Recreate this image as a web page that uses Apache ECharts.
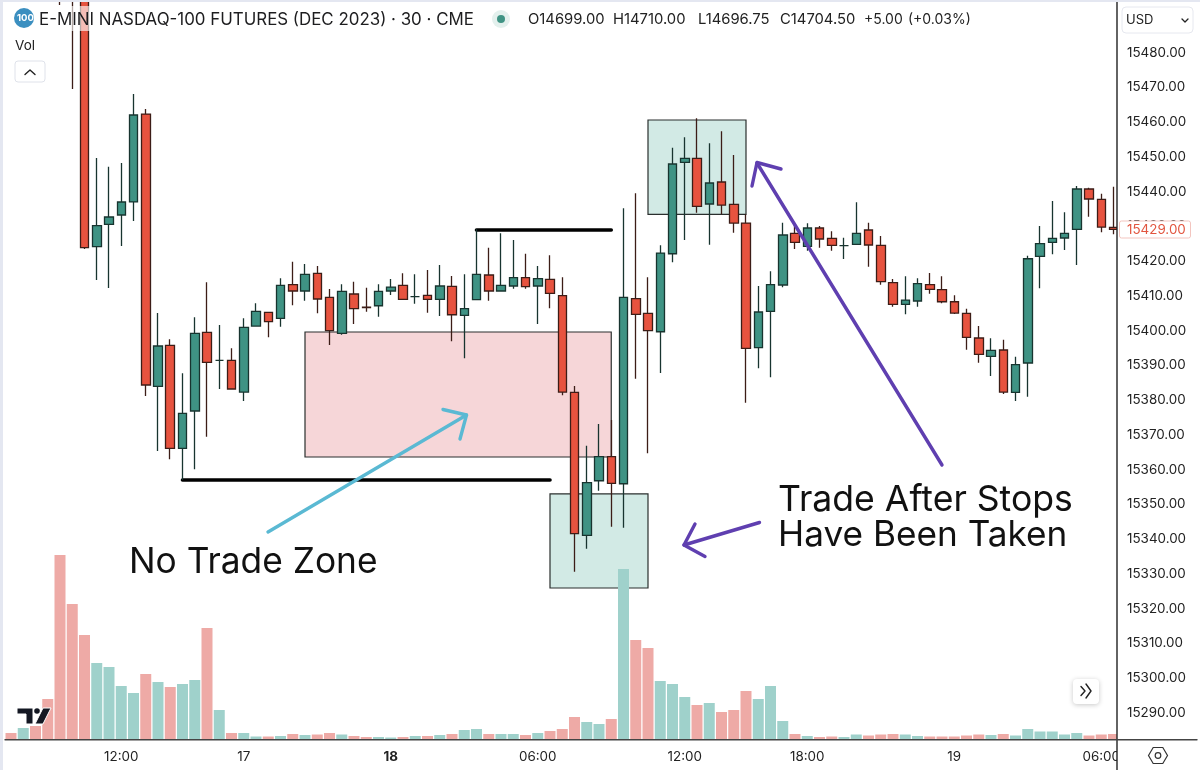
<!DOCTYPE html>
<html><head><meta charset="utf-8">
<style>html,body{margin:0;padding:0;background:#fff}#c{width:1200px;height:770px}</style>
<script src="https://cdn.jsdelivr.net/npm/echarts@6/dist/echarts.min.js"></script>
</head><body><div id="c"></div>
<script>
const opens=[15535,15528,15536,15533,15530,15508,15497,15424.13,15430.57,15433.25,15437,15462.3,15383.97,15395.76,15366.13,15376.86,15399.5,15391.4,15391.45,15382.32,15401.31,15405.25,15403.53,15413.2,15411.38,15416.47,15409.57,15399.21,15410.52,15406.75,15407.15,15411.38,15413.02,15409.74,15410.15,15408.99,15412.73,15404.39,15408.88,15415.99,15411.38,15412.82,15415.21,15412.82,15414.75,15410.03,15382.24,15341.1,15356.8,15363.71,15355.94,15409.17,15404.97,15399.67,15422.11,15448.41,15449.56,15436.41,15442.74,15436.32,15430.94,15395.07,15405.54,15413.11,15427.98,15424.24,15429.51,15426.54,15424.42,15424.82,15428.93,15424.53,15413.77,15407.56,15408.51,15413.2,15411.76,15408.3,15404.97,15397.86,15392.6,15394.41,15382.24,15390.67,15421.36,15425.39,15426.63,15429.13,15440.73,15437.76,15429.7];
const highs=[15537,15538,15539,15536,15532,15510,15499,15449.65,15447.14,15448.21,15468.06,15463.74,15405.05,15397.49,15387.7,15403.82,15413.88,15401.6,15394.9,15403.53,15407.84,15405.4,15415.03,15419.81,15419.15,15418.57,15411.96,15413.31,15414.06,15412.33,15413.31,15414.84,15416.47,15416.19,15417.42,15418.86,15415.7,15416.19,15429.13,15423.84,15427.98,15426.05,15422.11,15418.57,15421.65,15415.32,15384.05,15366.88,15373.12,15374.27,15435.17,15439.49,15415.32,15424.53,15452.61,15455.6,15461.07,15453.87,15457.33,15450.51,15433.45,15412.82,15417.05,15431.03,15430.37,15430.86,15430.08,15428.56,15426.72,15436.9,15431.03,15427.2,15414.84,15415.61,15415.03,15416.56,15415.61,15410.14,15406.29,15401.31,15397.77,15397.37,15392.48,15421.54,15430.08,15437.27,15434.02,15441.59,15441.1,15439.37,15441.39];
const lows=[15526,15527,15530,15527,15493.65,15469.5,15423.5,15414.55,15412.25,15424.33,15431.52,15381.17,15365.35,15362.97,15357,15360.09,15369.47,15383.19,15383.05,15379.74,15401.17,15398.06,15401.11,15407.27,15408.59,15404.97,15395.85,15398.81,15401.89,15405.43,15403.99,15410.23,15408.88,15407.73,15405.14,15404.19,15396.91,15392.02,15408.79,15408.59,15411.18,15412.04,15412.04,15401.89,15406.4,15381.37,15330.63,15337.24,15353.93,15343.58,15343.29,15386.15,15364.69,15387.79,15419.64,15426.05,15433.91,15424.7,15433.45,15428.15,15379.25,15389.14,15386.56,15412.45,15423.47,15422.98,15423.84,15422.98,15420.59,15424.73,15418.37,15413.2,15406.87,15404.68,15406.87,15410.61,15407.84,15404.77,15394.5,15390.76,15386.93,15381.75,15379.74,15380.97,15412.16,15421.94,15423.18,15418.86,15432.76,15428.27,15427.7];
const closes=[15528,15536,15533,15530,15508,15497,15423.84,15430.17,15432.67,15436.99,15462.02,15384.34,15395.56,15366.13,15376.2,15399.21,15390.87,15391.4,15383.19,15400.94,15405.54,15402.55,15413.02,15411.38,15416.19,15409.08,15399.96,15411.3,15406.29,15406.6,15411.3,15412.53,15408.99,15409.74,15408.99,15412.82,15404.56,15406.29,15416.19,15411.38,15413.02,15415.21,15412.62,15414.92,15410.72,15382.32,15341.56,15356.23,15363.71,15356.06,15409.57,15404.68,15399.96,15422.31,15447.92,15449.56,15435.75,15442.45,15436.12,15430.94,15394.9,15405.34,15413.2,15427.49,15425.39,15429.51,15426.34,15424.53,15424.42,15427.98,15424.62,15414.06,15407.56,15408.79,15413.48,15411.87,15408.3,15405.05,15398.06,15393.17,15394.32,15382.32,15390.18,15420.67,15424.99,15426.54,15427.98,15440.73,15437.85,15429.79,15429.13];
const volumes=[6,11,13,40,184,135,104,76,72,53,46,65,57,52,55,59,111,29,6,6,2.5,2.5,3,5,4,4.5,6,4.5,3,2,2,1.5,2,3,3,4,5,9,10,5,5,5,4,6,8,10,22,17,15,20,170,99,91,58,55,42,34,36,27,29,48,40,53,18,5,3,2,2.5,2,4.5,3.5,4.5,5,4.5,3,2.5,2.5,2.5,3.5,4.5,4,5,3.5,10,7.5,7.5,4.5,6,3.5,4.5,5];
const tickIndex=[9,19,31,43,55,65,77,89];
const tickLabels=['12:00','17','18','06:00','12:00','18:00','19','06:00'];
const priceTicks=[15290,15300,15310,15320,15330,15340,15350,15360,15370,15380,15390,15400,15410,15420,15430,15440,15450,15460,15470,15480];
const lastPrice='15429.00';
const title='E-MINI NASDAQ-100 FUTURES (DEC 2023) · 30 · CME';
const ohlcText=['O14699.00','H14710.00','L14696.75','C14704.50','+5.00','(+0.03%)'];
const ohlcX=[528,613,698,780,864,908];
const ohlcSize=[14.8,14.8,14.8,14.8,14,14];
const pinkZone={from:24,to:49,top:15399.59,bottom:15363.63};
const tealLow={from:44,to:52,top:15353,bottom:15325.94};
const tealHigh={from:52,to:60,top:15460.58,bottom:15433.45};
const lowLine={from:14,to:44,price:15357};
const highLine={from:38,to:49,price:15429.13};

const FONT='Inter, "Noto Sans", sans-serif';
const categories=volumes.map((_,i)=>String(i));
const candles=opens.map((o,i)=>[o,closes[i],lows[i],highs[i]]);
const UP='#3f9384',DOWN='#e7533f',UPV='#9fd1cb',DOWNV='#eeaaa6';
const zone=(z,color)=>[{xAxis:z.from,yAxis:z.top,itemStyle:{color:color,borderColor:'#2a2f2e',borderWidth:1.2}},{xAxis:z.to,yAxis:z.bottom}];
const T=(text,x,y,size,fill,extra)=>({type:'text',z:300,silent:true,style:Object.assign({text:text,x:x,y:y,font:size+'px '+FONT,fill:fill,textVerticalAlign:'middle'},extra||{})});
const L=(pts,color,w,z)=>({type:'polyline',z:z||120,silent:true,shape:{points:pts},style:{stroke:color,lineWidth:w,fill:'none',lineCap:'round',lineJoin:'round'}});
const BLUE='#5ab9d3',PURPLE='#5f3fb0';
const elements=[
 {type:'rect',z:90,silent:true,shape:{x:36,y:6,width:940,height:25},style:{fill:'rgba(255,255,255,0.62)'}},
 {type:'rect',z:220,silent:true,shape:{x:1117,y:0,width:83,height:770},style:{fill:'#fff'}},
 {type:'rect',z:400,silent:true,shape:{x:0,y:0,width:1200,height:2},style:{fill:'#e4e7f1'}},
 {type:'rect',z:400,silent:true,shape:{x:0,y:0,width:3,height:770},style:{fill:'#e4e7f1'}},
 L([[1117,0],[1117,770]],'#222',1.4,260),
 L([[5,739.8],[1197,739.8]],'#444',1.4,260),
 {type:'circle',z:300,silent:true,shape:{cx:24,cy:18,r:10},style:{fill:'#3b8fc0'}},
 T('100',17,18.5,10,'#fff',{font:'bold 9.5px '+FONT}),
 T(title,39,19.5,16.9,'#1d1d1f'),
 {type:'circle',z:300,silent:true,shape:{cx:501,cy:19,r:9},style:{fill:'#e3f0ed'}},
 {type:'circle',z:301,silent:true,shape:{cx:501,cy:19,r:4},style:{fill:UP}},
 T('Vol',15,45.5,13.5,'#222'),
 {type:'rect',z:300,silent:true,shape:{x:15,y:61,width:30,height:21,r:3},style:{fill:'#fff',stroke:'#dfe2ea',lineWidth:1}},
 L([[25,74.5],[30,70],[35,74.5]],'#222',1.4,301),
 {type:'rect',z:300,silent:true,shape:{x:1122,y:7,width:71,height:26,r:4},style:{fill:'#fff',stroke:'#e6e8ef',lineWidth:1}},
 T('USD',1126,20,13,'#222'),
 L([[1182,19],[1185,22],[1188,19]],'#222',1.3,301),
 {type:'rect',z:300,silent:true,shape:{x:1119.5,y:221,width:71,height:17,r:2},style:{fill:'#fff',stroke:'#f3c5bf',lineWidth:1}},
 T(lastPrice,1127,230,13.4,'#e2553f'),
 {type:'polygon',z:300,silent:true,shape:{points:[[1148.5,755.5],[1153.2,747.5],[1162.8,747.5],[1167.5,755.5],[1162.8,763.5],[1153.2,763.5]]},style:{fill:'#fff',stroke:'#333',lineWidth:1.2}},
 {type:'circle',z:301,silent:true,shape:{cx:1158,cy:755.5,r:2.8},style:{fill:'#fff',stroke:'#333',lineWidth:1.2}},
 {type:'rect',z:300,silent:true,shape:{x:1073,y:679,width:26,height:25,r:4},style:{fill:'#fff',shadowBlur:5,shadowColor:'rgba(0,0,0,0.22)',shadowOffsetY:1}},
 L([[1081,686.5],[1085,691],[1081,695.5]],'#222',1.4,301),
 L([[1086,684],[1091,691],[1086,698]],'#222',1.4,301),
 {type:'polygon',z:300,silent:true,shape:{points:[[17,708],[33,708],[33,724],[26,724],[26,714],[17,714]]},style:{fill:'#131722',stroke:'#fff',lineWidth:1}},
 {type:'circle',z:300,silent:true,shape:{cx:37,cy:711,r:2.8},style:{fill:'#131722'}},
 {type:'polygon',z:300,silent:true,shape:{points:[[43,708],[51,708],[43,724],[35,724]]},style:{fill:'#131722',stroke:'#fff',lineWidth:1}},
 L([[268,532],[466.5,415]],BLUE,3.4,110),
 L([[443,409.5],[466.5,415],[460,439]],BLUE,3.4,110),
 L([[942,465],[757,163]],PURPLE,3.4,110),
 L([[752,186],[757,162.5],[781,169]],PURPLE,3.4,110),
 L([[759.5,522.5],[684,545]],PURPLE,3.4,110),
 L([[695,524],[684,545],[705,556.5]],PURPLE,3.4,110),
 T('No Trade Zone',129,562,35.3,'#111'),
 T('Trade After Stops',778,500.5,35.6,'#111'),
 T('Have Been Taken',778,535.5,35.2,'#111')
];
ohlcText.forEach((t,i)=>elements.push(T(t,ohlcX[i],19.5,ohlcSize[i],'#222')));

const chart=echarts.init(document.getElementById('c'),null,{renderer:'canvas'});
chart.setOption({
 animation:false,
 backgroundColor:'#fff',
 grid:[
  {left:4.875,width:1114.75,top:0.36,height:747.34},
  {left:4.875,width:1114.75,top:499,height:240}
 ],
 xAxis:[
  {type:'category',gridIndex:0,data:categories,show:false},
  {type:'category',gridIndex:1,data:categories,z:200,
   axisLine:{show:false},axisTick:{show:false},
   axisLabel:{margin:11,fontFamily:FONT,fontSize:13.4,color:'#222',
    interval:(i)=>tickIndex.indexOf(i)>=0,
    formatter:(v,i)=>{const k=tickIndex.indexOf(Number(v));if(k<0)return '';return tickLabels[k]==='18'?'{b|18}':tickLabels[k];},
    rich:{b:{fontWeight:'bold',fontFamily:FONT,fontSize:13.4,color:'#222'}}}}
 ],
 yAxis:[
  {type:'value',gridIndex:0,position:'right',min:15280,max:15495,interval:10,z:250,
   axisLine:{show:false},axisTick:{show:false},splitLine:{show:false},
   axisLabel:{margin:7.4,padding:[2,0,0,0],fontFamily:FONT,fontSize:13.4,color:'#222',showMaxLabel:false,showMinLabel:false,
    formatter:(v)=>priceTicks.indexOf(v)>=0?v.toFixed(2):''}},
  {type:'value',gridIndex:1,min:0,max:240,show:false}
 ],
 series:[
  {type:'bar',name:'Vol',xAxisIndex:1,yAxisIndex:1,z:1,silent:true,barWidth:11,
   data:volumes.map((v,i)=>({value:v,itemStyle:{color:closes[i]>=opens[i]?UPV:DOWNV}}))},
  {type:'line',name:'zones',xAxisIndex:0,yAxisIndex:0,z:2,silent:true,data:[],
   markArea:{silent:true,data:[zone(pinkZone,'rgba(237,173,178,0.5)'),zone(tealLow,'rgba(130,197,182,0.36)'),zone(tealHigh,'rgba(130,197,182,0.36)')]},
   markLine:{silent:true,symbol:'none',label:{show:false},lineStyle:{color:'#000',width:3.6,type:'solid',cap:'round'},
    data:[[{xAxis:lowLine.from,yAxis:lowLine.price},{xAxis:lowLine.to,yAxis:lowLine.price}],[{xAxis:highLine.from,yAxis:highLine.price},{xAxis:highLine.to,yAxis:highLine.price}]]}},
  {type:'candlestick',name:'NQ',xAxisIndex:0,yAxisIndex:0,z:5,silent:true,barWidth:9,data:candles,
   itemStyle:{color:UP,color0:DOWN,borderColor:'#18342f',borderColor0:'#3c1d17',borderColorDoji:'#18342f',borderWidth:1.3}}
 ],
 graphic:{elements:elements}
});
</script></body></html>
